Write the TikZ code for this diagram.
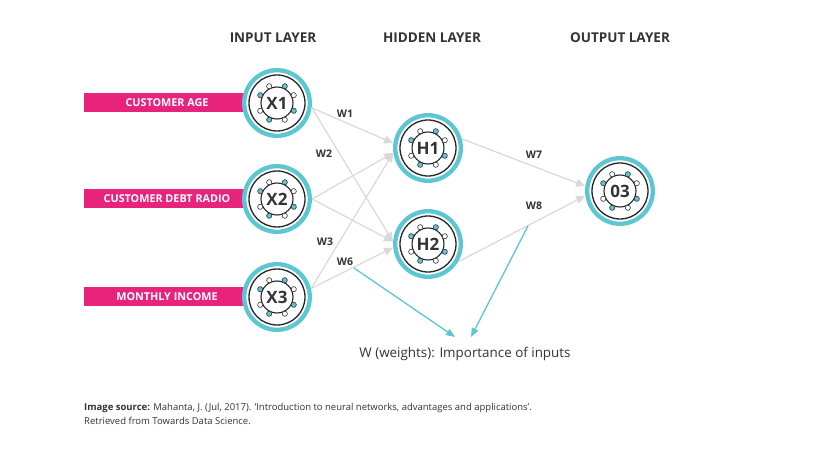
\documentclass[tikz,border=0pt]{standalone}
\usepackage{fontspec}
\setmainfont{Open Sans}
\usetikzlibrary{arrows.meta}
\definecolor{ringteal}{HTML}{5CC6D3}
\definecolor{hotpink}{HTML}{E8237E}
\definecolor{lgray}{HTML}{D9D9D9}
\definecolor{txt}{HTML}{333333}
\tikzset{
 neuron/.style={circle, minimum size=70pt, inner sep=0pt},
 ntext/.style={font=\fontsize{17}{17}\selectfont\bfseries, text=txt},
 pinkbar/.style={fill=hotpink, text=white, minimum width=166pt, minimum height=19pt, inner sep=0pt, font=\fontsize{10.8}{10.8}\selectfont\bfseries},
 header/.style={font=\fontsize{13.5}{13.5}\selectfont\bfseries, text=txt},
 wlabel/.style={font=\fontsize{10.5}{10.5}\selectfont\bfseries, text=txt},
 garrow/.style={draw=lgray, line width=1.2pt, -{Triangle[length=9pt,width=8pt]}},
 tarrow/.style={draw=ringteal, line width=1.3pt, -{Triangle[length=9pt,width=7pt]}},
}
\newcommand\mkneuron[4]{%
 \node[neuron] (#1) at (#2,#3) {};
 \draw[ringteal, line width=4.3pt, fill=white] (#1.center) circle[radius=32.8pt];
 \draw[black!85, line width=1.3pt] (#1.center) circle[radius=28pt];
 \draw[black!85, line width=1.1pt] (#1.center) circle[radius=16pt];
 \foreach \a/\c in {25/white,65/ringteal,115/white,155/ringteal,205/white,245/ringteal,295/white,335/ringteal}{
   \draw[black!80, line width=0.6pt, fill=\c] (#1.center) ++(\a:18.5pt) circle[radius=2.6pt];
 }
 \node[ntext] (#1t) at (#1.center) {#4};
}
\begin{document}
\begin{tikzpicture}[x=1pt,y=-1pt]
\useasboundingbox (0,0) rectangle (828,457);
\fill[white] (0,0) rectangle (828,457);
% headers
\node[header] (hin) at (273,38) {INPUT LAYER};
\node[header] (hhid) at (432,38) {HIDDEN LAYER};
\node[header] (hout) at (620,38) {OUTPUT LAYER};
% pink bars
\node[pinkbar] (b1) at (167,103) {CUSTOMER AGE};
\node[pinkbar] (b2) at (167,199) {CUSTOMER DEBT RADIO};
\node[pinkbar] (b3) at (167,297) {MONTHLY INCOME};
% neurons
\mkneuron{X1}{277}{103}{X1}
\mkneuron{X2}{277}{199}{X2}
\mkneuron{X3}{277}{297}{X3}
\mkneuron{H1}{428}{148}{H1}
\mkneuron{H2}{428}{244}{H2}
\mkneuron{O3}{620}{191}{03}
% connectors
\draw[garrow] (X1.-8) -- (H1.172);
\draw[garrow] (X1.-8) -- (H2.176);
\draw[garrow] (X2.0) -- (H1.188);
\draw[garrow] (X2.0) -- (H2.176);
\draw[garrow] (X3.14) -- (H1.188);
\draw[garrow] (X3.14) -- (H2.186);
\draw[garrow] (H1.15) -- (O3.172);
\draw[garrow] (H2.-30) -- (O3.188);
% weight labels
\node[wlabel] (w1) at (345,114) {W1};
\node[wlabel] (w2) at (324,154) {W2};
\node[wlabel] (w3) at (325,242) {W3};
\node[wlabel] (w6) at (345,262) {W6};
\node[wlabel] (w7) at (534,155) {W7};
\node[wlabel] (w8) at (534,206) {W8};
% teal arrows
\coordinate (t1s) at (354,268);
\coordinate (t1e) at (455,337);
\coordinate (t2s) at (528,226);
\coordinate (t2e) at (471,337);
\draw[tarrow] (t1s) -- (t1e);
\draw[tarrow] (t2s) -- (t2e);
\node[font=\fontsize{13.4}{13.4}\selectfont, text=txt] (cap) at (465,354) {W (weights): Importance of inputs};
% footer
\node[anchor=west, inner sep=0pt, font=\fontsize{9.5}{14}\selectfont, text=txt, align=left] (src) at (84,414) {\textbf{Image source:} Mahanta, J. (Jul, 2017). ‘Introduction to neural networks, advantages and applications’.\\Retrieved from Towards Data Science.};
\end{tikzpicture}
\end{document}
